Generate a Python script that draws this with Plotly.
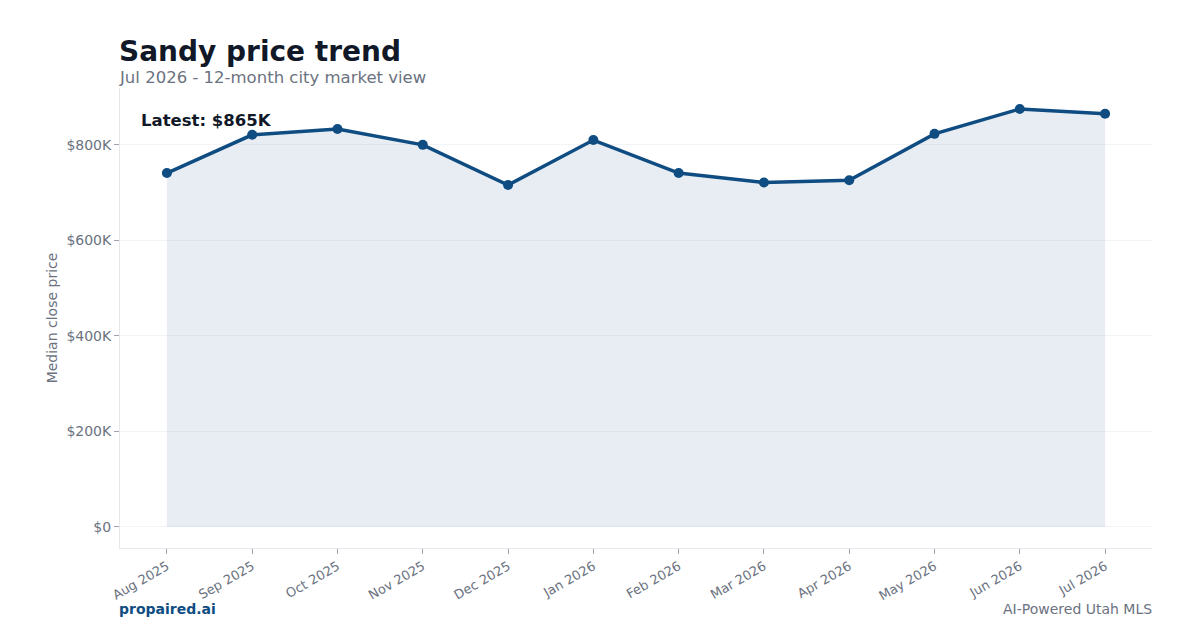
import plotly.graph_objects as go

months = ["Aug 2025", "Sep 2025", "Oct 2025", "Nov 2025", "Dec 2025", "Jan 2026",
          "Feb 2026", "Mar 2026", "Apr 2026", "May 2026", "Jun 2026", "Jul 2026"]
median_price = [741000, 821000, 833000, 800000, 716000, 810000,
                741000, 721000, 726000, 823000, 875000, 865000]
y_ticks = [0, 200000, 400000, 600000, 800000]
y_tick_labels = ["$0", "$200K", "$400K", "$600K", "$800K"]

NAVY = "#0f4c81"
GRAY = "#6b7280"
FONT = "DejaVu Sans"

fig = go.Figure()
fig.add_trace(go.Scatter(
    x=months, y=median_price, mode="lines+markers",
    line=dict(color=NAVY, width=3.5),
    marker=dict(color=NAVY, size=10),
    fill="tozeroy", fillcolor="rgba(15,76,129,0.1)",
    showlegend=False,
))

fig.update_layout(
    width=1200, height=630,
    margin=dict(l=120, r=48, t=88, b=82),
    paper_bgcolor="white", plot_bgcolor="white",
    font=dict(family=FONT, color=GRAY),
    xaxis=dict(
        type="category", range=[-0.55, 11.55],
        tickangle=-30, tickfont=dict(size=13, color=GRAY),
        showgrid=False, showline=True, linecolor="#e5e7eb", linewidth=1,
        ticks="outside", tickcolor="#9ca3af", ticklen=5,
    ),
    yaxis=dict(
        range=[-44000, 919000],
        tickvals=y_ticks, ticktext=y_tick_labels,
        tickfont=dict(size=14, color=GRAY),
        showgrid=True, gridcolor="#f3f4f6", zeroline=False,
        showline=True, linecolor="#e5e7eb", linewidth=1,
        ticks="outside", tickcolor="#9ca3af", ticklen=5,
        title=dict(text="Median close price", font=dict(size=14, color=GRAY), standoff=5),
    ),
)

fig.add_annotation(xref="paper", yref="paper", x=0, y=1, xanchor="left", yanchor="bottom",
                   yshift=18, xshift=-3, showarrow=False,
                   text="<b>Sandy price trend</b>", font=dict(size=28, color="#111827", family=FONT))
fig.add_annotation(xref="paper", yref="paper", x=0, y=1, xanchor="left", yanchor="bottom",
                   yshift=-1, xshift=-3, showarrow=False,
                   text="Jul 2026 - 12-month city market view", font=dict(size=16.5, color=GRAY, family=FONT))
fig.add_annotation(xref="paper", yref="paper", x=0.02, y=0.93, xanchor="left", yanchor="middle",
                   xshift=-2, showarrow=False, text="<b>Latest: $865K</b>",
                   font=dict(size=16.5, color="#111827", family=FONT))
fig.add_annotation(xref="paper", yref="paper", x=0, y=0, xanchor="left", yanchor="middle",
                   yshift=-61, xshift=-3, showarrow=False, text="<b>propaired.ai</b>",
                   font=dict(size=14, color=NAVY, family=FONT))
fig.add_annotation(xref="paper", yref="paper", x=1, y=0, xanchor="right", yanchor="middle",
                   yshift=-61, xshift=2, showarrow=False, text="AI-Powered Utah MLS",
                   font=dict(size=14, color=GRAY, family=FONT))

fig.write_html("out.html")
